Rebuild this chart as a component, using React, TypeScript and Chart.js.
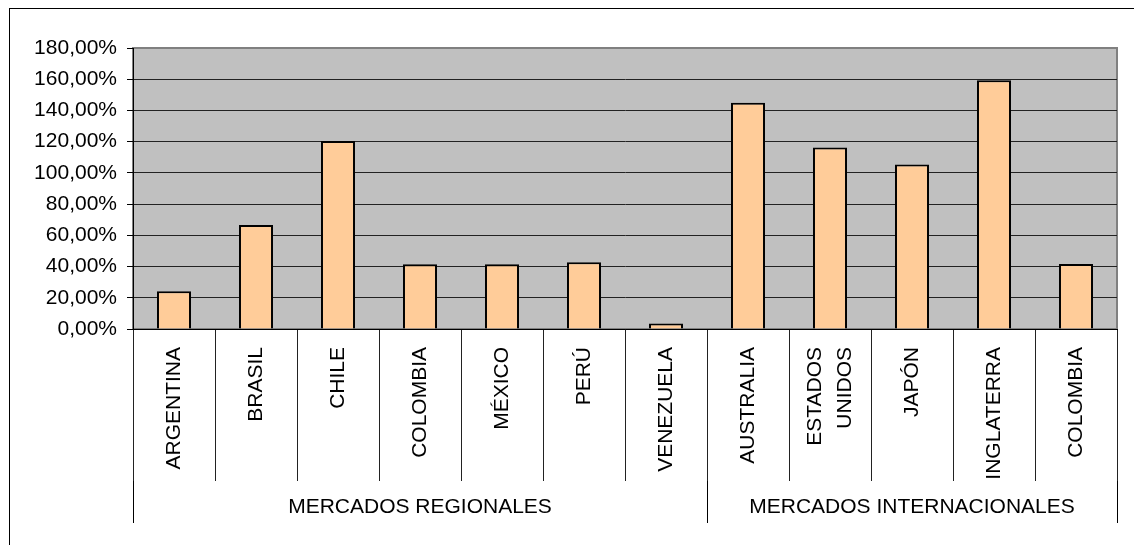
import React, { useEffect, useRef } from "react";
import { Chart, registerables } from "chart.js";

Chart.register(...registerables);

const categories: (string | string[])[] = [
  "ARGENTINA",
  "BRASIL",
  "CHILE",
  "COLOMBIA",
  "MÉXICO",
  "PERÚ",
  "VENEZUELA",
  "AUSTRALIA",
  ["ESTADOS", "UNIDOS"],
  "JAPÓN",
  "INGLATERRA",
  "COLOMBIA",
];

const values: number[] = [24.2, 66.6, 120.4, 41.5, 41.5, 42.8, 3.6, 145.0, 116.3, 105.3, 159.3, 41.6];

const groupLabels: string[] = ["MERCADOS REGIONALES", "MERCADOS INTERNACIONALES"];
const groupSizes: number[] = [7, 5];

const yTicks: number[] = [0, 20, 40, 60, 80, 100, 120, 140, 160, 180];

const FONT = "'Liberation Sans', Arial, sans-serif";
const LINE = 15;

export default function App() {
  const ref = useRef<HTMLCanvasElement | null>(null);

  useEffect(() => {
    if (!ref.current) return;

    const boundaries: number[] = [0];
    groupSizes.forEach((s) => boundaries.push(boundaries[boundaries.length - 1] + s));
    const centers: number[] = groupSizes.map((s, i) => boundaries[i] + s / 2);

    const plotBg = {
      id: "plotBg",
      beforeDraw(chart: any) {
        const { ctx, chartArea } = chart;
        ctx.save();
        ctx.fillStyle = "#C0C0C0";
        ctx.fillRect(chartArea.left, chartArea.top, chartArea.right - chartArea.left, chartArea.bottom - chartArea.top);
        ctx.strokeStyle = "#808080";
        ctx.lineWidth = 2;
        ctx.strokeRect(chartArea.left, chartArea.top, chartArea.right - chartArea.left, chartArea.bottom - chartArea.top);
        ctx.restore();
      },
    };

    const chart = new Chart(ref.current, {
      type: "bar",
      data: {
        labels: categories as any,
        datasets: [
          {
            data: values,
            backgroundColor: "#FFCC99",
            borderColor: "#000000",
            borderWidth: 2,
            categoryPercentage: 1,
            barPercentage: 0.415,
            xAxisID: "x",
            yAxisID: "y",
          },
        ],
      },
      options: {
        animation: false,
        responsive: false,
        maintainAspectRatio: false,
        layout: { padding: { left: 0, top: 48, right: 17, bottom: 22 } },
        plugins: { legend: { display: false }, tooltip: { enabled: false }, title: { display: false } },
        scales: {
          y: {
            type: "linear",
            min: 0,
            max: 180,
            afterBuildTicks: (s: any) => {
              s.ticks = yTicks.map((v) => ({ value: v }));
            },
            afterFit: (s: any) => {
              s.width = 133;
            },
            ticks: {
              padding: 10,
              color: "#000",
              font: { family: FONT, size: 21 },
              callback: (v: any) => Number(v).toFixed(2).replace(".", ",") + "%",
            },
            grid: {
              color: (c: any) => (c.tick && c.tick.value === 180 ? "rgba(0,0,0,0)" : "#222"),
              tickColor: "#000",
              tickLength: 6,
              lineWidth: 1,
            },
            border: { display: true, color: "#000", width: 1 },
          },
          x: {
            type: "category",
            position: "bottom",
            weight: 0,
            offset: true,
            afterFit: (s: any) => {
              s.height = 152;
            },
            ticks: {
              autoSkip: false,
              minRotation: 90,
              maxRotation: 90,
              padding: -134,
              labelOffset: -LINE,
              color: "#000",
              font: (c: any) => {
                const lab = categories[c.index];
                return { family: FONT, size: 21, lineHeight: Array.isArray(lab) ? LINE * 2 + "px" : LINE + "px" };
              },
              callback: (_v: any, i: number) => {
                const lab = categories[i];
                return Array.isArray(lab) ? lab : ["", lab];
              },
            },
            grid: {
              offset: true,
              drawOnChartArea: false,
              drawTicks: true,
              tickLength: 152,
              color: "#222",
              tickColor: "#222",
              lineWidth: 1,
            },
            border: { display: true, color: "#000", width: 1 },
          },
          x2: {
            type: "linear",
            position: "bottom",
            weight: 1,
            offset: false,
            min: 0,
            max: boundaries[boundaries.length - 1],
            afterBuildTicks: (s: any) => {
              const t: number[] = [...boundaries, ...centers].sort((a, b) => a - b);
              s.ticks = t.map((v) => ({ value: v }));
            },
            afterFit: (s: any) => {
              s.height = 42;
            },
            ticks: {
              autoSkip: false,
              minRotation: 0,
              maxRotation: 0,
              padding: -28,
              color: "#000",
              font: { family: FONT, size: 21 },
              callback: (v: any) => {
                const i = centers.indexOf(Number(v));
                return i >= 0 ? groupLabels[i] : "";
              },
            },
            grid: {
              offset: false,
              drawOnChartArea: false,
              drawTicks: true,
              tickLength: 42,
              color: (c: any) => (c.tick && boundaries.includes(c.tick.value) ? "#000" : "rgba(0,0,0,0)"),
              lineWidth: 1,
            },
            border: { display: false },
          },
        },
      },
      plugins: [plotBg],
    } as any);

    return () => chart.destroy();
  }, []);

  return (
    <div style={{ position: "fixed", left: 0, top: 0, width: 1134, height: 545, overflow: "hidden", background: "#fff" }}>
      <canvas ref={ref} width={1134} height={545} style={{ position: "absolute", left: 0, top: 0, width: 1134, height: 545 }} />
      <div
        style={{
          position: "absolute",
          left: 9,
          top: 8,
          width: 1200,
          height: 600,
          borderLeft: "1px solid #000",
          borderTop: "1px solid #000",
          pointerEvents: "none",
        }}
      />
    </div>
  );
}
